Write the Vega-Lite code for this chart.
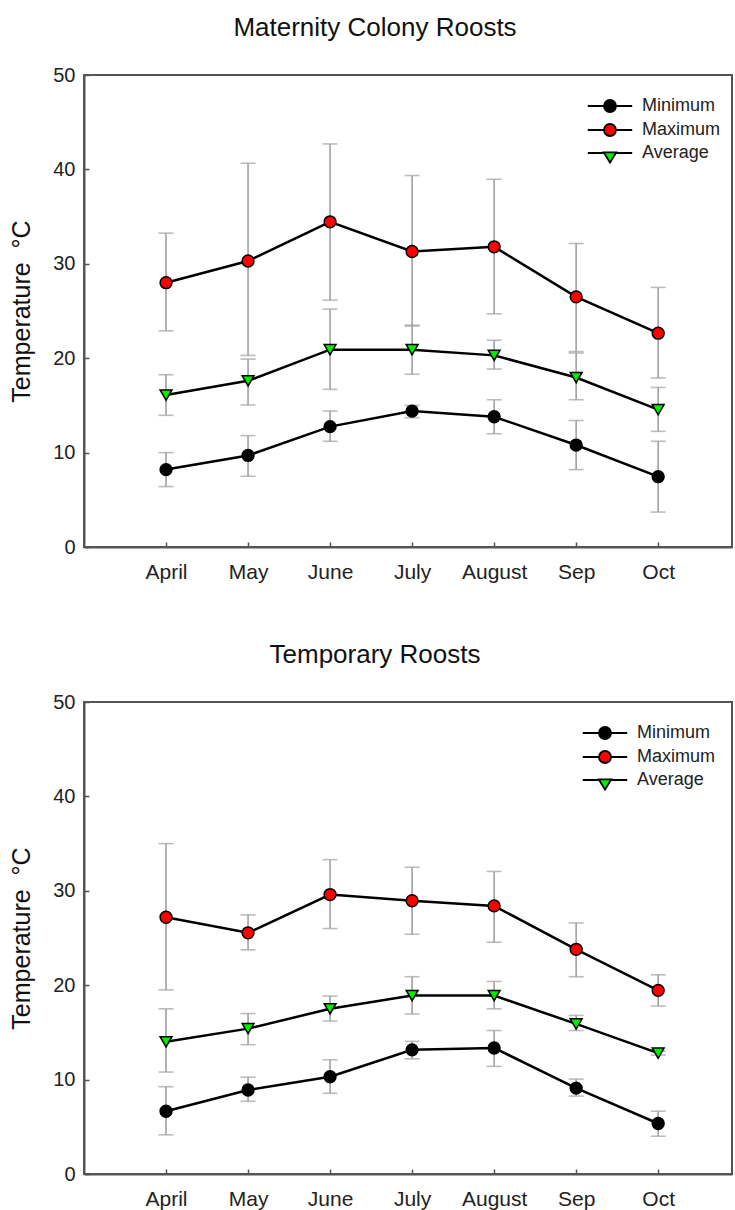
{
  "$schema": "https://vega.github.io/schema/vega-lite/v6.json",
  "padding": {"left": 8, "top": 14, "right": 0, "bottom": 0},
  "background": "white",
  "datasets": {
    "temps": [
      {"roost": "Maternity", "m": 4, "series": "Minimum", "value": 8.2, "lo": 6.4, "hi": 10.0},
      {"roost": "Maternity", "m": 5, "series": "Minimum", "value": 9.7, "lo": 7.5, "hi": 11.8},
      {"roost": "Maternity", "m": 6, "series": "Minimum", "value": 12.75, "lo": 11.2, "hi": 14.4},
      {"roost": "Maternity", "m": 7, "series": "Minimum", "value": 14.4, "lo": 13.7, "hi": 15.0},
      {"roost": "Maternity", "m": 8, "series": "Minimum", "value": 13.8, "lo": 12.0, "hi": 15.6},
      {"roost": "Maternity", "m": 9, "series": "Minimum", "value": 10.8, "lo": 8.2, "hi": 13.4},
      {"roost": "Maternity", "m": 10, "series": "Minimum", "value": 7.45, "lo": 3.7, "hi": 11.2},
      {"roost": "Maternity", "m": 4, "series": "Average", "value": 16.1, "lo": 13.95, "hi": 18.25},
      {"roost": "Maternity", "m": 5, "series": "Average", "value": 17.6, "lo": 15.05, "hi": 19.9},
      {"roost": "Maternity", "m": 6, "series": "Average", "value": 20.9, "lo": 16.7, "hi": 25.2},
      {"roost": "Maternity", "m": 7, "series": "Average", "value": 20.9, "lo": 18.3, "hi": 23.5},
      {"roost": "Maternity", "m": 8, "series": "Average", "value": 20.3, "lo": 18.85, "hi": 21.9},
      {"roost": "Maternity", "m": 9, "series": "Average", "value": 17.95, "lo": 15.6, "hi": 20.55},
      {"roost": "Maternity", "m": 10, "series": "Average", "value": 14.55, "lo": 12.25, "hi": 16.9},
      {"roost": "Maternity", "m": 4, "series": "Maximum", "value": 28.0, "lo": 22.9, "hi": 33.25},
      {"roost": "Maternity", "m": 5, "series": "Maximum", "value": 30.3, "lo": 20.3, "hi": 40.65},
      {"roost": "Maternity", "m": 6, "series": "Maximum", "value": 34.45, "lo": 26.15, "hi": 42.7},
      {"roost": "Maternity", "m": 7, "series": "Maximum", "value": 31.3, "lo": 23.4, "hi": 39.35},
      {"roost": "Maternity", "m": 8, "series": "Maximum", "value": 31.8, "lo": 24.7, "hi": 38.95},
      {"roost": "Maternity", "m": 9, "series": "Maximum", "value": 26.5, "lo": 20.7, "hi": 32.15},
      {"roost": "Maternity", "m": 10, "series": "Maximum", "value": 22.65, "lo": 17.9, "hi": 27.5},
      {"roost": "Temporary", "m": 4, "series": "Minimum", "value": 6.65, "lo": 4.15, "hi": 9.25},
      {"roost": "Temporary", "m": 5, "series": "Minimum", "value": 8.9, "lo": 7.7, "hi": 10.25},
      {"roost": "Temporary", "m": 6, "series": "Minimum", "value": 10.3, "lo": 8.55, "hi": 12.1},
      {"roost": "Temporary", "m": 7, "series": "Minimum", "value": 13.15, "lo": 12.2, "hi": 14.05},
      {"roost": "Temporary", "m": 8, "series": "Minimum", "value": 13.35, "lo": 11.4, "hi": 15.2},
      {"roost": "Temporary", "m": 9, "series": "Minimum", "value": 9.1, "lo": 8.25, "hi": 10.05},
      {"roost": "Temporary", "m": 10, "series": "Minimum", "value": 5.35, "lo": 4.0, "hi": 6.65},
      {"roost": "Temporary", "m": 4, "series": "Average", "value": 14.0, "lo": 10.8, "hi": 17.5},
      {"roost": "Temporary", "m": 5, "series": "Average", "value": 15.4, "lo": 13.7, "hi": 17.0},
      {"roost": "Temporary", "m": 6, "series": "Average", "value": 17.5, "lo": 16.2, "hi": 18.85},
      {"roost": "Temporary", "m": 7, "series": "Average", "value": 18.9, "lo": 16.95, "hi": 20.9},
      {"roost": "Temporary", "m": 8, "series": "Average", "value": 18.9, "lo": 17.5, "hi": 20.4},
      {"roost": "Temporary", "m": 9, "series": "Average", "value": 15.9, "lo": 15.2, "hi": 16.8},
      {"roost": "Temporary", "m": 10, "series": "Average", "value": 12.8, "lo": 12.6, "hi": 13.0},
      {"roost": "Temporary", "m": 4, "series": "Maximum", "value": 27.2, "lo": 19.5, "hi": 35.0},
      {"roost": "Temporary", "m": 5, "series": "Maximum", "value": 25.55, "lo": 23.75, "hi": 27.45},
      {"roost": "Temporary", "m": 6, "series": "Maximum", "value": 29.6, "lo": 26.0, "hi": 33.3},
      {"roost": "Temporary", "m": 7, "series": "Maximum", "value": 28.95, "lo": 25.4, "hi": 32.5},
      {"roost": "Temporary", "m": 8, "series": "Maximum", "value": 28.4, "lo": 24.55, "hi": 32.05},
      {"roost": "Temporary", "m": 9, "series": "Maximum", "value": 23.8, "lo": 20.9, "hi": 26.6},
      {"roost": "Temporary", "m": 10, "series": "Maximum", "value": 19.45, "lo": 17.8, "hi": 21.1}
    ]
  },
  "spacing": 58,
  "resolve": {
    "scale": {"fill": "independent", "shape": "independent", "stroke": "independent"},
    "legend": {"fill": "independent", "shape": "independent", "stroke": "independent"}
  },
  "vconcat": [
    {
      "title": {"text": "Maternity Colony Roosts", "dx": -33, "offset": 24},
      "width": 648,
      "height": 472,
      "data": {"name": "temps"},
      "transform": [{"filter": "datum.roost === 'Maternity'"}],
      "encoding": {
        "x": {"field": "m", "type": "quantitative",
          "scale": {"domain": [3, 10.9], "nice": false, "zero": false},
          "axis": {"values": [4, 5, 6, 7, 8, 9, 10], "title": null,
            "labelExpr": "['','','','','April','May','June','July','August','Sep','Oct'][datum.value]"}},
        "y": {"field": "value", "type": "quantitative", "title": "Temperature\u00a0\u00a0°C",
          "scale": {"domain": [0, 50], "nice": false, "zero": false},
          "axis": {"values": [0, 10, 20, 30, 40, 50]}}
      },
      "layer": [
        {
          "mark": {"type": "errorbar", "color": "#a0a0a0", "thickness": 1.6, "ticks": {"size": 15, "thickness": 1.6, "color": "#a0a0a0"}},
          "encoding": {
            "y": {"field": "lo", "type": "quantitative", "title": "Temperature\u00a0\u00a0°C"},
            "y2": {"field": "hi"}
          }
        },
        {
          "mark": {"type": "line", "color": "black", "strokeWidth": 2.5},
          "encoding": {"detail": {"field": "series"}}
        },
        {
          "mark": {"type": "point", "filled": true, "size": 140, "stroke": "black", "strokeWidth": 1.5, "opacity": 1},
          "encoding": {
            "fill": {"condition": [{"test": "datum.series === 'Maximum'", "value": "#ff0000"}, {"test": "datum.series === 'Average'", "value": "#00ee00"}], "value": "#000000"},
            "shape": {"condition": {"test": "datum.series === 'Average'", "value": "triangle-down"}, "value": "circle"}
          }
        },
        {
          "transform": [{"filter": "false"}],
          "mark": {"type": "point", "filled": true, "size": 144, "strokeWidth": 1.8, "opacity": 1},
          "encoding": {
            "fill": {"field": "series", "type": "nominal", "title": null,
              "scale": {"domain": ["Minimum", "Maximum", "Average"], "range": ["#000000", "#ff0000", "#00ee00"]},
              "legend": {"orient": "none", "legendX": 517, "legendY": 22}},
            "stroke": {"field": "series", "type": "nominal", "title": null,
              "scale": {"domain": ["Minimum", "Maximum", "Average"], "range": ["#000000", "#000000", "#000000"]},
              "legend": {"orient": "none", "legendX": 517, "legendY": 22}},
            "shape": {"field": "series", "type": "nominal", "title": null,
              "scale": {"domain": ["Minimum", "Maximum", "Average"], "range": ["M-3.7,0L-1,0M1,0L3.7,0M1,0A1,1 0 1,1 -1,0A1,1 0 1,1 1,0Z", "M-3.7,0L-1,0M1,0L3.7,0M1,0A1,1 0 1,1 -1,0A1,1 0 1,1 1,0Z", "M-3.7,0L-0.9,0M0.9,0L3.7,0M-1.05,-0.1L1.05,-0.1L0,1.6Z"]},
              "legend": {"orient": "none", "legendX": 517, "legendY": 22}}
          }
        }
      ]
    },
    {
      "title": {"text": "Temporary Roosts", "dx": -33, "offset": 24},
      "width": 648,
      "height": 472,
      "data": {"name": "temps"},
      "transform": [{"filter": "datum.roost === 'Temporary'"}],
      "encoding": {
        "x": {"field": "m", "type": "quantitative",
          "scale": {"domain": [3, 10.9], "nice": false, "zero": false},
          "axis": {"values": [4, 5, 6, 7, 8, 9, 10], "title": null,
            "labelExpr": "['','','','','April','May','June','July','August','Sep','Oct'][datum.value]"}},
        "y": {"field": "value", "type": "quantitative", "title": "Temperature\u00a0\u00a0°C",
          "scale": {"domain": [0, 50], "nice": false, "zero": false},
          "axis": {"values": [0, 10, 20, 30, 40, 50]}}
      },
      "layer": [
        {
          "mark": {"type": "errorbar", "color": "#a0a0a0", "thickness": 1.6, "ticks": {"size": 15, "thickness": 1.6, "color": "#a0a0a0"}},
          "encoding": {
            "y": {"field": "lo", "type": "quantitative", "title": "Temperature\u00a0\u00a0°C"},
            "y2": {"field": "hi"}
          }
        },
        {
          "mark": {"type": "line", "color": "black", "strokeWidth": 2.5},
          "encoding": {"detail": {"field": "series"}}
        },
        {
          "mark": {"type": "point", "filled": true, "size": 140, "stroke": "black", "strokeWidth": 1.5, "opacity": 1},
          "encoding": {
            "fill": {"condition": [{"test": "datum.series === 'Maximum'", "value": "#ff0000"}, {"test": "datum.series === 'Average'", "value": "#00ee00"}], "value": "#000000"},
            "shape": {"condition": {"test": "datum.series === 'Average'", "value": "triangle-down"}, "value": "circle"}
          }
        },
        {
          "transform": [{"filter": "false"}],
          "mark": {"type": "point", "filled": true, "size": 144, "strokeWidth": 1.8, "opacity": 1},
          "encoding": {
            "fill": {"field": "series", "type": "nominal", "title": null,
              "scale": {"domain": ["Minimum", "Maximum", "Average"], "range": ["#000000", "#ff0000", "#00ee00"]},
              "legend": {"orient": "none", "legendX": 512, "legendY": 22}},
            "stroke": {"field": "series", "type": "nominal", "title": null,
              "scale": {"domain": ["Minimum", "Maximum", "Average"], "range": ["#000000", "#000000", "#000000"]},
              "legend": {"orient": "none", "legendX": 512, "legendY": 22}},
            "shape": {"field": "series", "type": "nominal", "title": null,
              "scale": {"domain": ["Minimum", "Maximum", "Average"], "range": ["M-3.7,0L-1,0M1,0L3.7,0M1,0A1,1 0 1,1 -1,0A1,1 0 1,1 1,0Z", "M-3.7,0L-1,0M1,0L3.7,0M1,0A1,1 0 1,1 -1,0A1,1 0 1,1 1,0Z", "M-3.7,0L-0.9,0M0.9,0L3.7,0M-1.05,-0.1L1.05,-0.1L0,1.6Z"]},
              "legend": {"orient": "none", "legendX": 512, "legendY": 22}}
          }
        }
      ]
    }
  ],
  "config": {
    "font": "Liberation Sans",
    "view": {"stroke": "#555555", "strokeWidth": 2},
    "title": {"fontSize": 26, "fontWeight": "normal", "color": "#111111", "anchor": "middle", "frame": "group"},
    "axis": {
      "grid": false,
      "domainColor": "#555555",
      "domainWidth": 2,
      "tickColor": "#555555",
      "tickWidth": 1.5,
      "tickSize": -5,
      "labelColor": "#222222",
      "titleColor": "#111111",
      "titleFontWeight": "normal"
    },
    "axisX": {
      "labelFontSize": 21,
      "labelPadding": 19
    },
    "axisY": {
      "labelFontSize": 20,
      "labelPadding": 14,
      "titleFontSize": 25,
      "titlePadding": 18
    },
    "legend": {
      "labelFontSize": 18,
      "labelColor": "#222222",
      "symbolSize": 144,
      "symbolStrokeColor": "black",
      "symbolStrokeWidth": 1.8,
      "labelOffset": 23,
      "rowPadding": 4,
      "padding": 0,
      "offset": 0
    }
  }
}
